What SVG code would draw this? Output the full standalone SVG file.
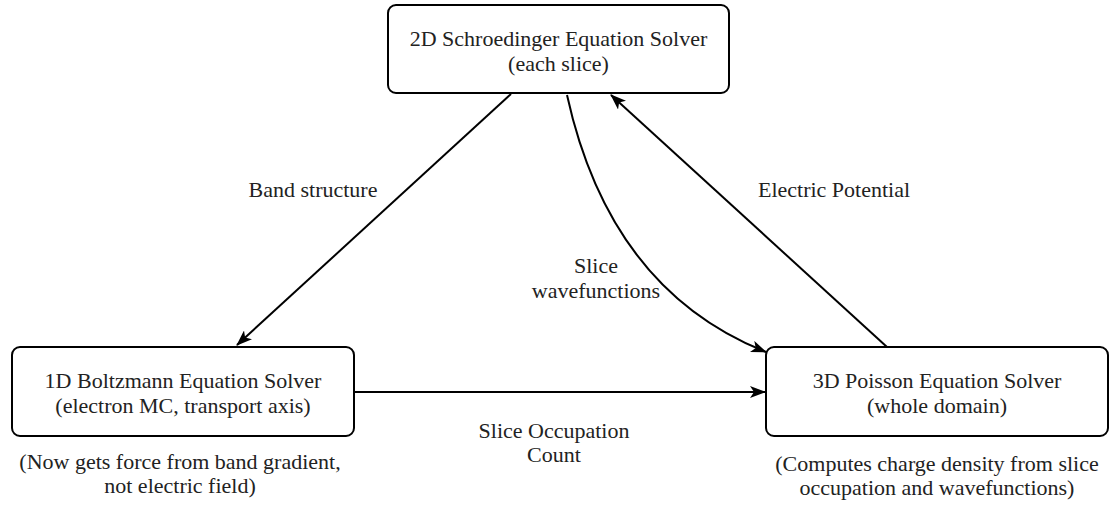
<svg xmlns="http://www.w3.org/2000/svg" width="1111" height="508" viewBox="0 0 1111 508">
<style>
.box{fill:#fff;stroke:#000;stroke-width:2}
text{font-family:"Liberation Serif","Times New Roman",serif;font-size:22px;fill:#222;text-anchor:middle}
.edge{fill:none;stroke:#000;stroke-width:2;marker-end:url(#arr)}
</style>
<defs>
<marker id="arr" viewBox="0 0 16 12" refX="15" refY="6" markerWidth="16" markerHeight="12" markerUnits="userSpaceOnUse" orient="auto">
<path d="M0,0 L16,6 L0,12 L4,6 z" fill="#000"/>
</marker>
</defs>
<rect width="1111" height="508" fill="#fff"/>
<g id="connectors">
<path class="edge" d="M511,94 L237,345"/>
<path class="edge" d="M887,347 L611,95"/>
<path class="edge" d="M567,95 Q610,290 766,352"/>
<path class="edge" d="M355,392 L765,392"/>
<text x="313" y="197">Band structure</text>
<text x="834" y="197">Electric Potential</text>
<text x="596" y="273">Slice</text>
<text x="596" y="298">wavefunctions</text>
<text x="554" y="438">Slice Occupation</text>
<text x="554" y="462">Count</text>
</g>
<g id="schroedinger">
<rect class="box" x="388" y="5" width="341" height="88" rx="8"/>
<text x="558.5" y="46">2D Schroedinger Equation Solver</text>
<text x="558.5" y="71">(each slice)</text>
</g>
<g id="boltzmann">
<rect class="box" x="12" y="347" width="342" height="89" rx="8"/>
<text x="183" y="388">1D Boltzmann Equation Solver</text>
<text x="183" y="413">(electron MC, transport axis)</text>
<text x="180" y="469">(Now gets force from band gradient,</text>
<text x="180" y="493">not electric field)</text>
</g>
<g id="poisson">
<rect class="box" x="766" y="347" width="342" height="89" rx="8"/>
<text x="937" y="388">3D Poisson Equation Solver</text>
<text x="937" y="413">(whole domain)</text>
<text x="937" y="471">(Computes charge density from slice</text>
<text x="937" y="495">occupation and wavefunctions)</text>
</g>
</svg>
